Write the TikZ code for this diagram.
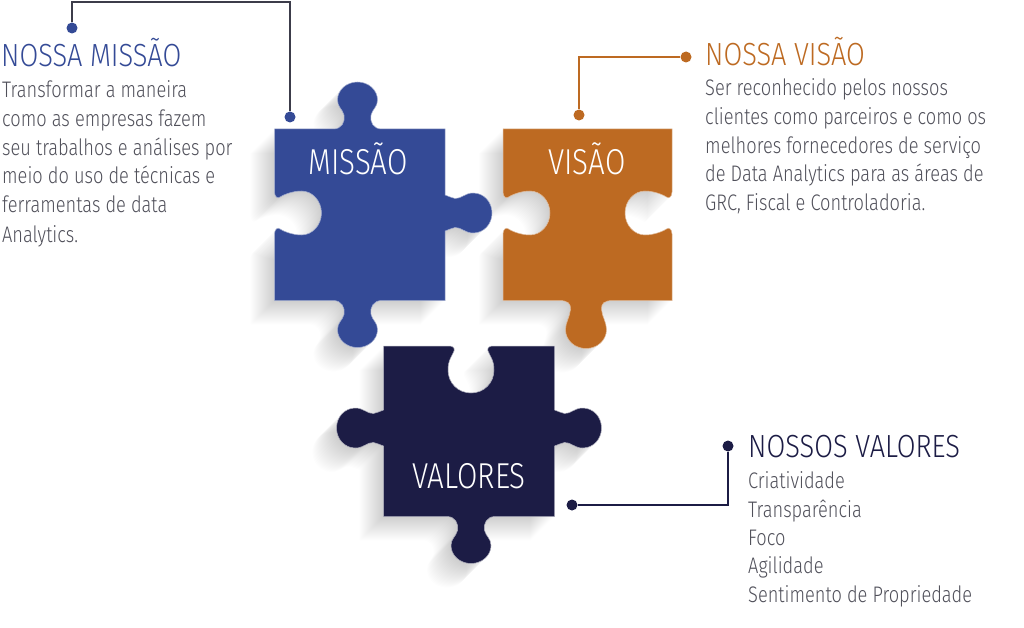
\documentclass[tikz,border=0pt]{standalone}
\usepackage{fontspec}
\setmainfont[UprightFont=* Light]{Fira Sans}
\newfontfamily\bodyf[UprightFont=* Light,FakeStretch=.81]{Fira Sans}
\newfontfamily\headf[UprightFont=* Light,FakeStretch=.85]{Fira Sans}
\newfontfamily\labelf[UprightFont=* Light,FakeStretch=.82]{Fira Sans}
\definecolor{cblue}{HTML}{344A96}
\definecolor{corange}{HTML}{BD6A22}
\definecolor{cnavy}{HTML}{1C1C45}
\definecolor{cbody}{HTML}{50505A}
\definecolor{cline}{HTML}{3C3C4A}
% outward edge features, local frame: u along the clockwise edge, v outward
\def\VK#1{ -- ([#1]-24,0) .. controls ([#1]-16,0) and ([#1]-12,-7) .. ([#1]-13.5,-14) .. controls ([#1]-15,-20) and ([#1]-20,-22) .. ([#1]-20,-29) .. controls ([#1]-20,-39) and ([#1]-11,-47) .. ([#1]0,-47) .. controls ([#1]11,-47) and ([#1]20,-39) .. ([#1]20,-29) .. controls ([#1]20,-22) and ([#1]15,-20) .. ([#1]13.5,-14) .. controls ([#1]12,-7) and ([#1]16,0) .. ([#1]24,0)}
\def\VT#1{ -- ([#1]-27,0) .. controls ([#1]-18,0) and ([#1]-15,-3) .. ([#1]-15.5,-9) .. controls ([#1]-16,-16) and ([#1]-20.5,-22) .. ([#1]-20.5,-29) .. controls ([#1]-20.5,-40) and ([#1]-11,-48) .. ([#1]0,-48) .. controls ([#1]11,-48) and ([#1]20.5,-40) .. ([#1]20.5,-29) .. controls ([#1]20.5,-22) and ([#1]16,-16) .. ([#1]15.5,-9) .. controls ([#1]15,-3) and ([#1]18,0) .. ([#1]27,0)}
\def\HK#1{ -- ([#1]-18,0) .. controls ([#1]-16.5,-4) and ([#1]-15,-7) .. ([#1]-14.5,-10) .. controls ([#1]-14,-16) and ([#1]-20,-20) .. ([#1]-20,-28) .. controls ([#1]-20,-39) and ([#1]-11,-47) .. ([#1]0,-47) .. controls ([#1]11,-47) and ([#1]20,-39) .. ([#1]20,-28) .. controls ([#1]20,-20) and ([#1]14,-16) .. ([#1]14.5,-10) .. controls ([#1]15,-7) and ([#1]16.5,-4) .. ([#1]18,0)}
\def\HN#1{ -- ([#1]-21,0) .. controls ([#1]-16,0) and ([#1]-14,-3.5) .. ([#1]-16,-5.5) .. controls ([#1]-17.5,-7.5) and ([#1]-22,-17) .. ([#1]-22,-27) .. controls ([#1]-22,-38) and ([#1]-12,-47) .. ([#1]0,-47) .. controls ([#1]12,-47) and ([#1]22,-38) .. ([#1]22,-27) .. controls ([#1]22,-17) and ([#1]17.5,-7.5) .. ([#1]16,-5.5) .. controls ([#1]14,-3.5) and ([#1]16,0) .. ([#1]21,0)}
\def\VN#1{ -- ([#1]-22,0) .. controls ([#1]-18,0) and ([#1]-16,-2) .. ([#1]-17,-5) .. controls ([#1]-19,-10) and ([#1]-23,-14) .. ([#1]-23,-24) .. controls ([#1]-23,-37) and ([#1]-13,-47) .. ([#1]0,-47) .. controls ([#1]13,-47) and ([#1]23,-37) .. ([#1]23,-24) .. controls ([#1]23,-14) and ([#1]19,-10) .. ([#1]17,-5) .. controls ([#1]16,-2) and ([#1]18,0) .. ([#1]22,0)}
\def\PieceM{(274.5,129) \VK{shift={(357.5,129)}} -- (445,129) \HK{shift={(445,213)},rotate=-90} -- (445,300.5) \VK{shift={(357.5,300.5)},rotate=180} -- (274.5,300.5) \HN{shift={(274.5,213)},rotate=90,yscale=-1} -- cycle}
\def\PieceV{(503,129) -- (672,129) \HN{shift={(672,213)},rotate=-90,yscale=-1} -- (672,300.5) \VT{shift={(586,300.5)},rotate=180} -- (503,300.5) \HN{shift={(503,213)},rotate=90,yscale=-1} -- cycle}
\def\PieceW{(383.5,346) \VN{shift={(471,346)},yscale=-1} -- (554.5,346) \HK{shift={(554.5,428)},rotate=-90} -- (554.5,516.5) \VK{shift={(471,516.5)},rotate=180} -- (383.5,516.5) \HK{shift={(383.5,428)},rotate=90} -- cycle}
\tikzset{
  plabel/.style={text=white,font=\labelf\fontsize{36}{36}\selectfont,inner sep=0pt,anchor=base},
  head/.style={font=\headf\fontsize{32}{32}\selectfont,inner sep=0pt,anchor=base west},
  bodytext/.style={text=cbody,font=\bodyf\fontsize{22.5}{28.6}\selectfont,inner sep=0pt,anchor=base west},
  dotmark/.style={circle,fill=#1,inner sep=0pt,minimum size=11pt},
  leader/.style={draw=#1,line width=1.6pt},
}
\begin{document}
\begin{tikzpicture}[x=1pt,y=-1pt]
\useasboundingbox (0,0) rectangle (1024,628);
\fill[white] (0,0) rectangle (1024,628);
% soft long shadows
\foreach \i in {1,...,24}{
  \fill[black,opacity=.0075,shift={(-\i,\i)}] \PieceM;
  \fill[black,opacity=.0075,shift={(-\i,\i)}] \PieceV;
  \fill[black,opacity=.0075,shift={(-\i,\i)}] \PieceW;
}
\fill[cblue,draw=cblue!45,line width=.5pt] \PieceM;
\fill[corange,draw=corange!45,line width=.5pt] \PieceV;
\fill[cnavy,draw=cnavy!35,line width=.5pt] \PieceW;
\node[plabel] (lm) at (358,175) {MISSÃO};
\node[plabel] (lv) at (587,175) {VISÃO};
\node[plabel] (lw) at (469,488) {VALORES};
% leaders
\node[dotmark=cblue] (dm1) at (72,28) {};
\node[dotmark=cblue] (dm2) at (290,117) {};
\coordinate (cm) at (290,2);
\coordinate (cm0) at (72,2);
\draw[leader=cline] (dm1) -- (cm0) -- (cm) -- (dm2);
\node[dotmark=corange] (dv1) at (686,57) {};
\node[dotmark=corange] (dv2) at (579,115) {};
\coordinate (cv) at (579,57);
\draw[leader=corange] (dv1) -- (cv) -- (dv2);
\node[dotmark=cnavy] (dw1) at (728,446) {};
\node[dotmark=cnavy] (dw2) at (572,505) {};
\coordinate (cw) at (728,505);
\draw[leader=cnavy] (dw1) -- (cw) -- (dw2);
% text
\node[head,text=cblue] (hm) at (1,67) {NOSSA MISSÃO};
\node[head,text=corange] (hv) at (705,66) {NOSSA VISÃO};
\node[head,text=cnavy] (hw) at (748,457) {NOSSOS VALORES};
\node[bodytext] (m1) at (2,98) {Transformar a maneira};
\node[bodytext] (m2) at (2,127) {como as empresas fazem};
\node[bodytext] (m3) at (2,155.5) {seu trabalhos e análises por};
\node[bodytext] (m4) at (2,184) {meio do uso de técnicas e};
\node[bodytext] (m5) at (2,213) {ferramentas de data};
\node[bodytext] (m6) at (2,242) {Analytics.};
\node[bodytext] (v1) at (705,96) {Ser reconhecido pelos nossos};
\node[bodytext] (v2) at (705,125) {clientes como parceiros e como os};
\node[bodytext] (v3) at (705,153.5) {melhores fornecedores de serviço};
\node[bodytext] (v4) at (705,182) {de Data Analytics para as áreas de};
\node[bodytext] (v5) at (705,211) {GRC, Fiscal e Controladoria.};
\node[bodytext] (w1) at (748,488) {Criatividade};
\node[bodytext] (w2) at (748,517) {Transparência};
\node[bodytext] (w3) at (748,545) {Foco};
\node[bodytext] (w4) at (748,573.5) {Agilidade};
\node[bodytext] (w5) at (748,602) {Sentimento de Propriedade};
\end{tikzpicture}
\end{document}
